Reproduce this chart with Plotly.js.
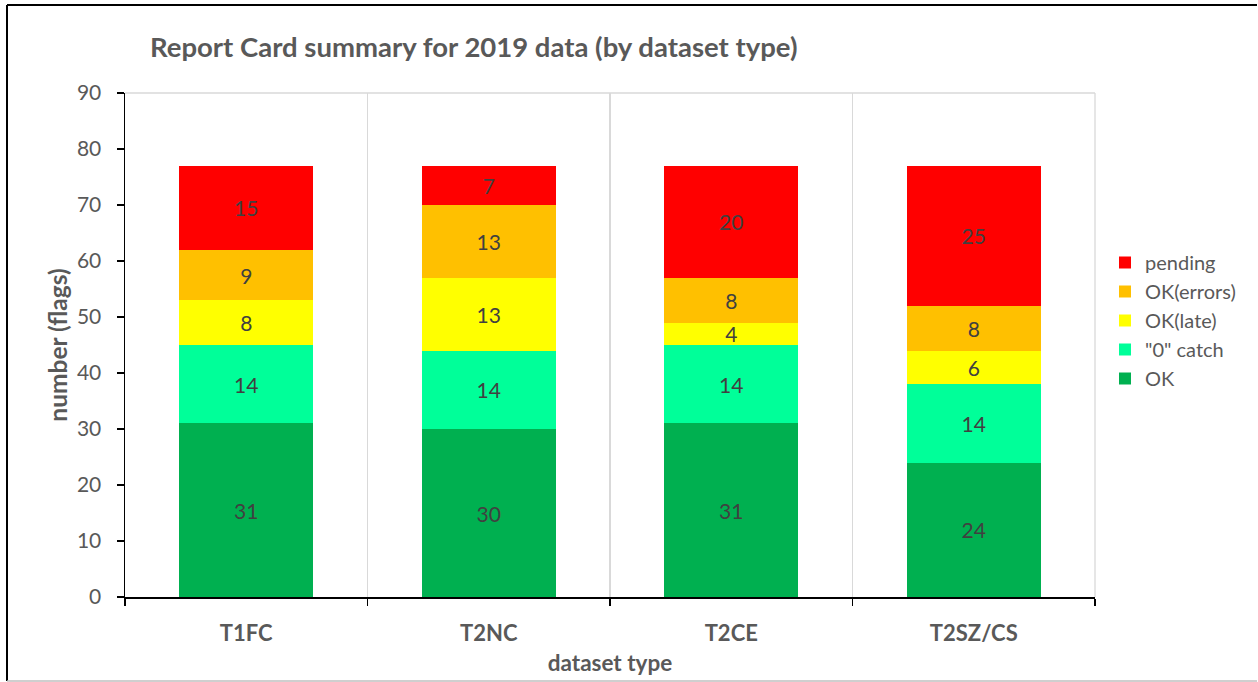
<!DOCTYPE html>
<html>
<head>
<meta charset="utf-8">
<script src="https://cdn.plot.ly/plotly-3.0.1.min.js"></script>
<style>html,body{margin:0;padding:0;background:#fff;}#chart{width:1258px;height:682px;}</style>
</head>
<body>
<div id="chart"></div>
<script>
var categories = ["T1FC", "T2NC", "T2CE", "T2SZ/CS"];
var okVals = [31, 30, 31, 24];
var zeroCatchVals = [14, 14, 14, 14];
var okLateVals = [8, 13, 4, 6];
var okErrorsVals = [9, 13, 8, 8];
var pendingVals = [15, 7, 20, 25];
var seriesNames = ["OK", "\"0\" catch", "OK(late)", "OK(errors)", "pending"];
var seriesColors = ["#00B050", "#00FF99", "#FFFF00", "#FFC000", "#FF0000"];
var seriesValues = [okVals, zeroCatchVals, okLateVals, okErrorsVals, pendingVals];

var FONT = "Lato, 'Open Sans', sans-serif";
var traces = seriesValues.map(function (vals, i) {
  return {
    type: "bar",
    name: seriesNames[i],
    x: categories,
    y: vals,
    text: vals.map(String),
    texttemplate: "%{text}",
    textposition: "inside",
    insidetextanchor: "middle",
    textangle: 0,
    constraintext: "none",
    insidetextfont: {family: FONT, size: 21, color: "#404040"},
    marker: {color: seriesColors[i], line: {width: 0}},
    hoverinfo: "skip"
  };
});

var PL = 125, PR = 1095, PT = 93, PB = 597;
function px(x) { return (x - PL) / (PR - PL); }
function py(y) { return (PB - y) / (PB - PT); }

var layout = {
  width: 1258, height: 682,
  margin: {l: PL, r: 1258 - PR, t: PT, b: 682 - PB, pad: 0},
  paper_bgcolor: "#fff", plot_bgcolor: "#fff",
  barmode: "stack",
  bargap: 0.447,
  font: {family: FONT, color: "#595959"},
  title: {
    text: "Report Card summary for 2019 data (by dataset type)",
    font: {family: FONT, size: 27.5, color: "#595959", weight: "bold"},
    xref: "container", yref: "container",
    x: 150 / 1258, xanchor: "left",
    y: 1 - 47 / 682, yanchor: "middle"
  },
  xaxis: {
    type: "category",
    range: [-0.5, 3.5],
    tickson: "boundaries",
    ticks: "outside", ticklen: 7, tickwidth: 1.5, tickcolor: "#000",
    ticklabelstandoff: 16,
    showline: true, linecolor: "#000", linewidth: 1.5,
    showgrid: true, gridcolor: "#d9d9d9", gridwidth: 1.3,
    tickfont: {family: FONT, size: 22, color: "#595959", weight: "bold"},
    title: {text: "dataset type", font: {family: FONT, size: 22.5, color: "#595959", weight: "bold"}, standoff: 10},
    fixedrange: true
  },
  yaxis: {
    range: [0, 90],
    dtick: 10,
    ticks: "outside", ticklen: 7, tickwidth: 1.5, tickcolor: "#000",
    ticklabelstandoff: 11,
    showline: true, linecolor: "#000", linewidth: 1.5,
    showgrid: false, zeroline: false,
    tickfont: {family: FONT, size: 21, color: "#595959"},
    title: {text: "number (flags)", font: {family: FONT, size: 24.5, color: "#595959", weight: "bold"}, standoff: 2},
    fixedrange: true
  },
  legend: {
    x: px(1105), xanchor: "left",
    y: py(243), yanchor: "top",
    traceorder: "reversed",
    font: {family: FONT, size: 20, color: "#595959"},
    bgcolor: "rgba(0,0,0,0)"
  },
  showlegend: true,
  shapes: [
    {type: "line", xref: "paper", yref: "paper", x0: 0, x1: 1, y0: 1, y1: 1, line: {color: "#d9d9d9", width: 1.3}, layer: "below"},
    {type: "line", xref: "paper", yref: "paper", x0: 1, x1: 1, y0: 0, y1: 1, line: {color: "#d9d9d9", width: 1.3}, layer: "below"},
    {type: "line", xref: "paper", yref: "paper", x0: px(7), x1: px(1257), y0: py(5), y1: py(5), line: {color: "#000", width: 2}},
    {type: "line", xref: "paper", yref: "paper", x0: px(7), x1: px(7), y0: py(5), y1: py(681), line: {color: "#000", width: 2}},
    {type: "line", xref: "paper", yref: "paper", x0: px(7), x1: px(1257), y0: py(681), y1: py(681), line: {color: "#bfbfbf", width: 1.5}}
  ]
};

Plotly.newPlot("chart", traces, layout, {displayModeBar: false, staticPlot: true});
</script>
</body>
</html>
